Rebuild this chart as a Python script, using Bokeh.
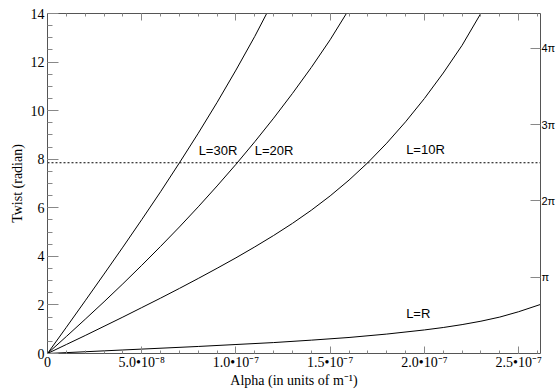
import math
from bokeh.plotting import figure
from bokeh.models import LinearAxis, FixedTicker, Range1d
from bokeh.core.properties import value
from bokeh.embed import file_html
from bokeh.resources import INLINE

# alpha in units of 1e-8 m^-1, twist in radian
alpha_R = [0, 4, 8, 10, 12, 14, 16, 18, 20, 21, 22, 23, 24, 25, 26.16]
twist_R = [0, 0.145, 0.29, 0.37, 0.45, 0.55, 0.66, 0.80, 0.97, 1.07, 1.19, 1.33, 1.50, 1.72, 2.02]

alpha_10R = [0, 1, 2, 3, 4, 5, 6, 7, 8, 9, 10, 11, 12, 13, 14, 15, 16, 17, 18, 19, 20, 21, 22, 22.99]
twist_10R = [0, 0.37, 0.74, 1.12, 1.50, 1.89, 2.28, 2.68, 3.09, 3.51, 3.94, 4.39, 4.86, 5.36,
             5.90, 6.49, 7.14, 7.86, 8.66, 9.54, 10.50, 11.55, 12.69, 14.0]

alpha_20R = [0, 1, 2, 3, 4, 5, 6, 7, 8, 9, 10, 11, 12, 13, 14, 15, 15.86]
twist_20R = [0, 0.70, 1.41, 2.13, 2.87, 3.63, 4.41, 5.21, 6.04, 6.90, 7.79, 8.72, 9.69,
             10.71, 11.78, 12.92, 14.0]

alpha_30R = [0, 1, 2, 3, 4, 5, 6, 7, 8, 9, 10, 11, 11.63]
twist_30R = [0, 1.08, 2.17, 3.27, 4.38, 5.51, 6.66, 7.85, 9.07, 10.34, 11.67, 13.06, 14.0]

curve_labels = ["L=30R", "L=20R", "L=10R", "L=R"]
label_x = [8.02, 11.0, 19.03, 19.03]
label_y = [8.36, 8.36, 8.4, 1.65]

ref_twist = 5 * math.pi / 2

x_major = [0, 5, 10, 15, 20, 25]
x_major_labels = ["0", "5.0•10⁻⁸", "1.0•10⁻⁷", "1.5•10⁻⁷", "2.0•10⁻⁷", "2.5•10⁻⁷"]
x_minor = list(range(0, 27))
y_major = [0, 2, 4, 6, 8, 10, 12, 14]
y_minor = [i * 0.5 for i in range(29)]
pi_ticks = [math.pi, 2 * math.pi, 3 * math.pi, 4 * math.pi]
pi_labels = ["π", "2π", "3π", "4π"]

x_title = "Alpha (in units of m⁻¹)"
y_title = "Twist (radian)"

X_MAX = 26.16
Y_MAX = 14

SERIF = "Liberation Serif"
SANS = "Liberation Sans"
AX_COL = "#555555"
TICK_COL = "#888888"

p = figure(width=558, height=390, x_range=Range1d(0, X_MAX), y_range=Range1d(0, Y_MAX),
           output_backend="svg", toolbar_location=None,
           x_axis_type=None, y_axis_type=None,
           min_border_left=47, min_border_right=15, min_border_top=13, min_border_bottom=35)
p.outline_line_color = None
p.background_fill_color = "white"
p.border_fill_color = "white"

xt = FixedTicker(ticks=x_major, minor_ticks=x_minor)
yt = FixedTicker(ticks=y_major, minor_ticks=y_minor)

bottom = LinearAxis(ticker=xt, axis_label=x_title)
bottom.major_label_overrides = {k: v for k, v in zip(x_major, x_major_labels)}
top = LinearAxis(ticker=xt)
left = LinearAxis(ticker=yt, axis_label=y_title)
right = LinearAxis(ticker=FixedTicker(ticks=pi_ticks, minor_ticks=[]))
right.major_label_overrides = {k: v for k, v in zip(pi_ticks, pi_labels)}

for ax in (bottom, top):
    ax.major_tick_in = 7
    ax.major_tick_out = 0
    ax.minor_tick_in = 3
    ax.minor_tick_out = 0
left.major_tick_in = 11
left.major_tick_out = 0
left.minor_tick_in = 5
left.minor_tick_out = 0
right.major_tick_in = 10
right.major_tick_out = 0
right.minor_tick_in = 0
right.minor_tick_out = 0

for ax in (bottom, top, left, right):
    ax.axis_line_color = AX_COL
    ax.major_tick_line_color = TICK_COL
    ax.minor_tick_line_color = TICK_COL
    ax.major_label_text_font = SERIF
    ax.major_label_text_font_size = "14px"
    ax.major_label_text_color = "black"
    ax.major_label_standoff = 3
    ax.axis_label_text_font = SERIF
    ax.axis_label_text_font_size = "14px"
    ax.axis_label_text_font_style = "normal"
    ax.axis_label_text_color = "black"
    ax.axis_label_standoff = 0

bottom.major_label_standoff = 1
left.major_label_standoff = 3
left.axis_label_standoff = 3
top.major_label_text_color = None
top.major_label_text_font_size = "1px"
top.major_label_standoff = 0
right.major_label_text_font = SANS
right.major_label_text_font_size = "11px"
right.major_label_standoff = 1

p.add_layout(bottom, "below")
p.add_layout(top, "above")
p.add_layout(left, "left")
p.add_layout(right, "right")

p.line([0, X_MAX], [ref_twist, ref_twist], line_color="black", line_width=1, line_dash="2 2")

for xs, ys in ((alpha_R, twist_R), (alpha_10R, twist_10R), (alpha_20R, twist_20R), (alpha_30R, twist_30R)):
    p.line(xs, ys, line_color="black", line_width=1)

p.text(x=label_x, y=label_y, text=curve_labels, text_font=value(SANS), text_font_size="13px",
       text_baseline="middle", text_align="left", text_color="black")

open("out.html", "w").write(file_html(p, INLINE))
